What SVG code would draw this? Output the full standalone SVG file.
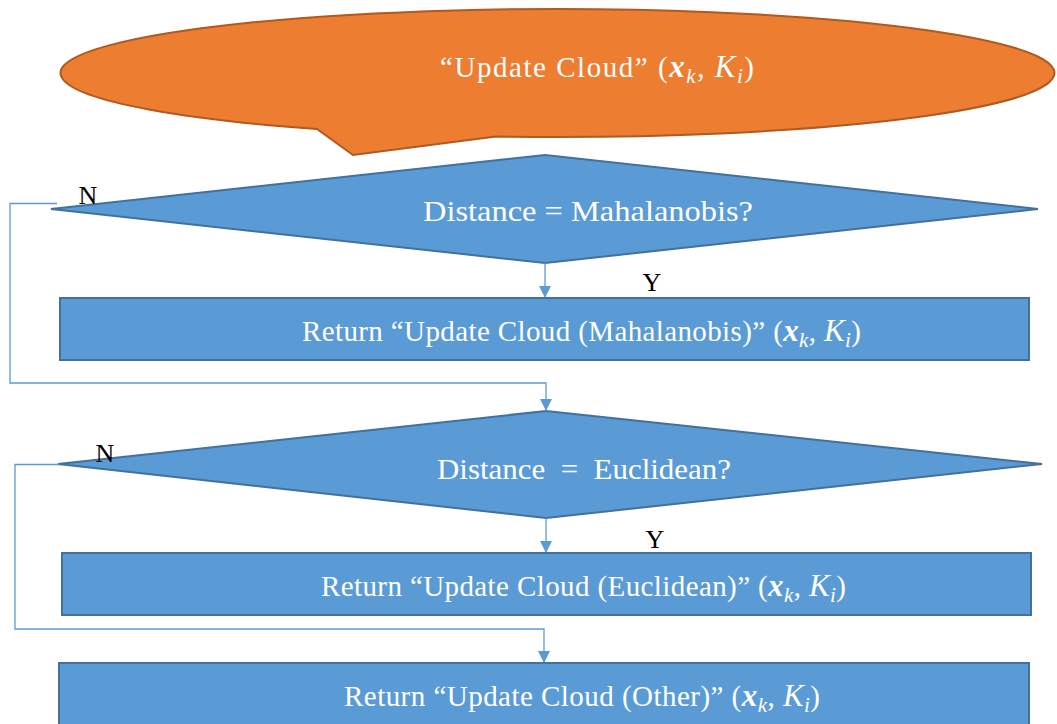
<svg xmlns="http://www.w3.org/2000/svg" width="1057" height="724" viewBox="0 0 1057 724">
  <defs>
    <marker id="arrow" markerWidth="12" markerHeight="12" refX="11" refY="6" orient="auto" markerUnits="userSpaceOnUse">
      <path d="M0,0 L12,6 L0,12 Z" fill="#5B9BD5"/>
    </marker>
    <style>
      .callout { fill: #ED7D31; stroke: #AE5A21; stroke-width: 2; }
      .shape { fill: #5B9BD5; stroke: #41719C; stroke-width: 2; }
      .conn { fill: none; stroke: #5B9BD5; stroke-width: 1.3; }
      .txt { font-family: "Liberation Serif", "Times New Roman", serif; fill: #FFFFFF; font-size: 29px; text-anchor: middle; }
      .q { font-size: 29px; }
      .lbl { font-family: "Liberation Serif", "Times New Roman", serif; fill: #000000; font-size: 26px; text-anchor: middle; }
      .mx { font-style: italic; font-weight: bold; font-size: 31px; }
      .mi { font-style: italic; font-size: 31px; }
      .sub { font-style: italic; font-size: 21px; }
    </style>
  </defs>
  <rect width="1057" height="724" fill="#FFFFFF"/>

  <!-- speech-bubble start node -->
  <g id="start">
    <path class="callout" d="M317,129 A497,64 0 1 1 496,136.5 L353,155 Z"/>
    <text class="txt" x="597" y="77" textLength="314" lengthAdjust="spacing">“Update Cloud” (<tspan class="mx">x</tspan><tspan class="sub" dy="6">k</tspan><tspan dy="-6">, </tspan><tspan class="mi">K</tspan><tspan class="sub" dy="6">i</tspan><tspan dy="-6">)</tspan></text>
  </g>

  <!-- decision: Mahalanobis -->
  <g id="decision-mahalanobis">
    <polygon class="shape" points="545,155 1038,209 545,263 51,209"/>
    <text class="txt q" x="588" y="221" textLength="330" lengthAdjust="spacingAndGlyphs">Distance = Mahalanobis?</text>
  </g>

  <!-- return Mahalanobis -->
  <g id="return-mahalanobis">
    <rect class="shape" x="60" y="298" width="969" height="62"/>
    <text class="txt" x="581.5" y="341" textLength="559" lengthAdjust="spacing">Return “Update Cloud (Mahalanobis)” (<tspan class="mx">x</tspan><tspan class="sub" dy="6">k</tspan><tspan dy="-6">, </tspan><tspan class="mi">K</tspan><tspan class="sub" dy="6">i</tspan><tspan dy="-6">)</tspan></text>
  </g>

  <!-- decision: Euclidean -->
  <g id="decision-euclidean">
    <polygon class="shape" points="546,411 1042,464 546,518 58,464"/>
    <text class="txt q" x="584" y="479" textLength="294" lengthAdjust="spacingAndGlyphs" xml:space="preserve">Distance  =  Euclidean?</text>
  </g>

  <!-- return Euclidean -->
  <g id="return-euclidean">
    <rect class="shape" x="62" y="553" width="969" height="62"/>
    <text class="txt" x="583.5" y="596" textLength="525" lengthAdjust="spacing">Return “Update Cloud (Euclidean)” (<tspan class="mx">x</tspan><tspan class="sub" dy="6">k</tspan><tspan dy="-6">, </tspan><tspan class="mi">K</tspan><tspan class="sub" dy="6">i</tspan><tspan dy="-6">)</tspan></text>
  </g>

  <!-- return Other -->
  <g id="return-other">
    <rect class="shape" x="59" y="663" width="970" height="70"/>
    <text class="txt" x="582" y="706" textLength="476" lengthAdjust="spacing">Return “Update Cloud (Other)” (<tspan class="mx">x</tspan><tspan class="sub" dy="6">k</tspan><tspan dy="-6">, </tspan><tspan class="mi">K</tspan><tspan class="sub" dy="6">i</tspan><tspan dy="-6">)</tspan></text>
  </g>

  <!-- connectors -->
  <g id="connectors">
    <path class="conn" d="M545,263 L545,297" marker-end="url(#arrow)"/>
    <path class="conn" d="M57,203.5 L10,203.5 L10,383 L546,383 L546,410" marker-end="url(#arrow)"/>
    <path class="conn" d="M546,518 L546,552" marker-end="url(#arrow)"/>
    <path class="conn" d="M59,464.5 L15,464.5 L15,629 L544,629 L544,662" marker-end="url(#arrow)"/>
  </g>

  <!-- branch labels -->
  <g id="labels">
    <text class="lbl" x="88" y="204">N</text>
    <text class="lbl" x="652" y="291">Y</text>
    <text class="lbl" x="105" y="462">N</text>
    <text class="lbl" x="655" y="548">Y</text>
  </g>
</svg>
